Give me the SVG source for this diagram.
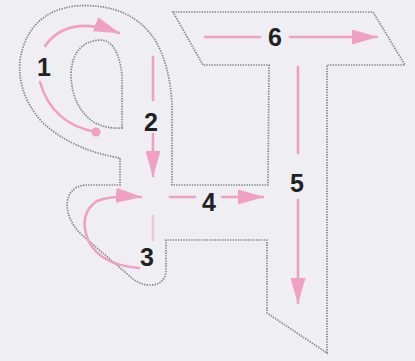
<svg xmlns="http://www.w3.org/2000/svg" width="415" height="361" viewBox="0 0 415 361">
<defs>
<marker id="ah" markerUnits="userSpaceOnUse" markerWidth="26" markerHeight="15" refX="25" refY="7.5" orient="auto">
<path d="M0,0 L26,7.5 L0,15 Z" fill="#f0a0c2"/>
</marker>
</defs>
<style>
.outline{fill:none;stroke:#858585;stroke-width:1.7;stroke-dasharray:1.4 1.2}
.arr{fill:none;stroke:#f0a0c2;stroke-width:2.6;stroke-linecap:round}
.lbl{font-family:"Liberation Sans",Arial,sans-serif;font-weight:bold;font-size:25px;fill:#222;text-anchor:middle}
</style>
<rect width="415" height="361" fill="#efeef3"/>
<g id="letter">
<path class="outline" d="M173,12 L373,12 L405,65 L327,65 L327,353 L267,313 L267,240 L166,240 L166,272 Q164,285 150,285 Q141,285 133,279 L82,235 Q68,222 67,205 Q68,187 85,185 L120,185 L120,158 Q72,150 42,122 Q17,94 20,60 Q28,12 75,6 Q130,2 155,40 Q170,65 172,105 L172,185 L268,185 L269,65 L203,65 Z"/>
<path class="outline" d="M122,128 L122,75 Q118,40 100,40 Q72,42 71,75 Q72,108 95,123 Q108,129 122,128 Z"/>
</g>
<g id="connectors">
<path class="arr" d="M45,46 Q68,14 119,33" marker-end="url(#ah)"/>
<path class="arr" d="M40,82 Q52,124 96,132"/>
<circle cx="96" cy="132" r="4.5" fill="#f0a0c2"/>
<path class="arr" d="M153,57 L153,100"/>
<path class="arr" d="M153,134 L153,176" marker-end="url(#ah)"/>
<path class="arr" d="M139,268 Q100,265 88,240 Q78,214 97,201 Q112,195 141,197" marker-end="url(#ah)"/>
<path class="arr" d="M153,216 L153,240" opacity="0.5"/>
<path class="arr" d="M170,197 L195,197"/>
<path class="arr" d="M222,197 L263,197" marker-end="url(#ah)"/>
<path class="arr" d="M298,67 L298,153"/>
<path class="arr" d="M298,200 L298,303" marker-end="url(#ah)"/>
<path class="arr" d="M205,37 L260,37"/>
<path class="arr" d="M290,37 L377,37" marker-end="url(#ah)"/>
</g>
<g id="labels">
<text class="lbl" x="44" y="76">1</text>
<text class="lbl" x="151" y="131">2</text>
<text class="lbl" x="147" y="266">3</text>
<text class="lbl" x="209" y="211">4</text>
<text class="lbl" x="297" y="192">5</text>
<text class="lbl" x="275" y="46">6</text>
</g>
</svg>
